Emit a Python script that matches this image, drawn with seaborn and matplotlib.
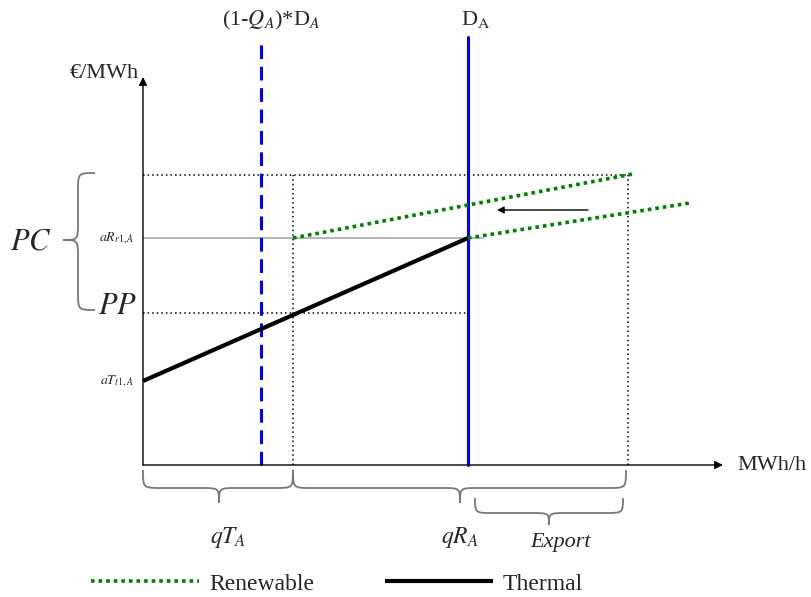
import numpy as np
import matplotlib
matplotlib.use("Agg")
import matplotlib.pyplot as plt
from matplotlib.path import Path
from matplotlib.patches import PathPatch
import seaborn as sns

# ---------------- data (diagram units: quantity MWh/h, price EUR/MWh) ----------------
q_share_demand = 118      # (1-Q_A)*D_A
q_thermal = 150           # qT_A
q_demand = 325            # D_A
q_export_end = 485        # end of export

p_aT = 84                 # aT_{t1,A}
p_PP = 152                # PP
p_aR = 227                # aR_{r1,A}
p_top = 290               # top of PC band

thermal_q = [0, 325]
thermal_p = [84, 227]
renew_q = [325, 547]
renew_p = [227, 262]
renew_shift_q = [150, 490]
renew_shift_p = [227, 291]

legend_labels = ["Renewable", "Thermal"]

# ---------------- style ----------------
sns.set_style("white")
plt.rcParams["font.family"] = ["Liberation Serif", "DejaVu Serif"]
plt.rcParams["mathtext.fontset"] = "stix"

fig = plt.figure(figsize=(8.12, 5.97), dpi=100)
ax = fig.add_axes([0, 0, 1, 1])
ax.set_xlim(-143, 669)
ax.set_ylim(-132, 465)
ax.axis("off")

# axes arrows
ax.annotate("", xy=(0, 388), xytext=(0, 0),
            arrowprops=dict(arrowstyle="-|>", color="black", lw=1.0,
                            mutation_scale=12, shrinkA=0, shrinkB=0))
ax.annotate("", xy=(580, 0), xytext=(0, 0),
            arrowprops=dict(arrowstyle="-|>", color="black", lw=1.0,
                            mutation_scale=12, shrinkA=0, shrinkB=0))

# guide lines
dot = (0, (1, 2))
ax.plot([0, q_export_end], [p_top, p_top], color="black", lw=1.1, ls=dot)
ax.plot([0, q_demand], [p_PP, p_PP], color="black", lw=1.1, ls=dot)
ax.plot([q_thermal, q_thermal], [0, p_top], color="black", lw=1.1, ls=dot)
ax.plot([q_export_end, q_export_end], [0, p_top], color="black", lw=1.1, ls=dot)
ax.plot([0, 340], [p_aR, p_aR], color="#a8a8a8", lw=1.2)

# demand lines
ax.plot([q_share_demand, q_share_demand], [0, 425], color="#0000ff", lw=2.2,
        ls=(0, (4.5, 2.5)))
ax.plot([q_demand, q_demand], [0, 428], color="#0000ff", lw=2.2)

# supply curves
sns.lineplot(x=thermal_q, y=thermal_p, ax=ax, color="black", linewidth=3.0,
             solid_capstyle="butt")
h_therm = ax.lines[-1]
green_style = dict(color="#008000", linewidth=2.6, linestyle=(0, (1, 1.1)),
                   dash_capstyle="butt")
sns.lineplot(x=renew_q, y=renew_p, ax=ax, **green_style)
h_renew = ax.lines[-1]
sns.lineplot(x=renew_shift_q, y=renew_shift_p, ax=ax, **green_style)

# shift arrow
ax.annotate("", xy=(354, 255), xytext=(445, 255),
            arrowprops=dict(arrowstyle="-|>", color="black", lw=1.0,
                            mutation_scale=10, shrinkA=0, shrinkB=0))


# braces
def hbrace(x0, x1, xm, e, s, t, r=18):
    verts = [(x0, e), (x0, s), (x0, s), (x0 + r, s),
             (xm - r, s),
             (xm, s), (xm, s), (xm, t),
             (xm, s), (xm, s), (xm + r, s),
             (x1 - r, s),
             (x1, s), (x1, s), (x1, e)]
    codes = [Path.MOVETO, Path.CURVE4, Path.CURVE4, Path.CURVE4,
             Path.LINETO,
             Path.CURVE4, Path.CURVE4, Path.CURVE4,
             Path.CURVE4, Path.CURVE4, Path.CURVE4,
             Path.LINETO,
             Path.CURVE4, Path.CURVE4, Path.CURVE4]
    ax.add_patch(PathPatch(Path(verts, codes), fc="none", ec="#777777", lw=1.3))


def vbrace(y0, y1, ym, e, s, t, r=18):
    verts = [(e, y0), (s, y0), (s, y0), (s, y0 + r),
             (s, ym - r),
             (s, ym), (s, ym), (t, ym),
             (s, ym), (s, ym), (s, ym + r),
             (s, y1 - r),
             (s, y1), (s, y1), (e, y1)]
    codes = [Path.MOVETO, Path.CURVE4, Path.CURVE4, Path.CURVE4,
             Path.LINETO,
             Path.CURVE4, Path.CURVE4, Path.CURVE4,
             Path.CURVE4, Path.CURVE4, Path.CURVE4,
             Path.LINETO,
             Path.CURVE4, Path.CURVE4, Path.CURVE4]
    ax.add_patch(PathPatch(Path(verts, codes), fc="none", ec="#777777", lw=1.3))


hbrace(0, q_thermal, 76, -5, -23, -38)
hbrace(q_thermal, 483, 317, -5, -23, -38)
hbrace(332, 480, 406, -33, -48, -60)
vbrace(155, 292, 225, -48, -65, -80)

# texts
ax.text(-4, 392, "€/MWh", fontsize=16, ha="right", va="center")
ax.text(128, 445, r"(1-$Q_A$)*D$_A$", fontsize=16, ha="center", va="center")
ax.text(333, 445, r"D$_{\mathrm{A}}$", fontsize=16, ha="center", va="center")
ax.text(594, 0, "MWh/h", fontsize=16, ha="left", va="center")
ax.text(-9, p_aR, r"$aR_{r1,A}$", fontsize=10, ha="right", va="center")
ax.text(-9, p_aT, r"$aT_{t1,A}$", fontsize=10, ha="right", va="center")
ax.text(-6, 158, r"$PP$", fontsize=22, ha="right", va="center")
ax.text(-112, 223, r"$PC$", fontsize=22, ha="center", va="center")
ax.text(85, -72, r"$qT_A$", fontsize=17, ha="center", va="center")
ax.text(317, -72, r"$qR_A$", fontsize=17, ha="center", va="center")
ax.text(418, -78, "Export", fontsize=16, style="italic", ha="center", va="center")

ax.legend(handles=[h_renew, h_therm], labels=legend_labels, ncol=2,
          loc="center", bbox_to_anchor=(0.415, 0.022), frameon=False,
          fontsize=17, handlelength=4.6, handletextpad=0.4, columnspacing=3.0)

fig.savefig("out.png", dpi=100)
